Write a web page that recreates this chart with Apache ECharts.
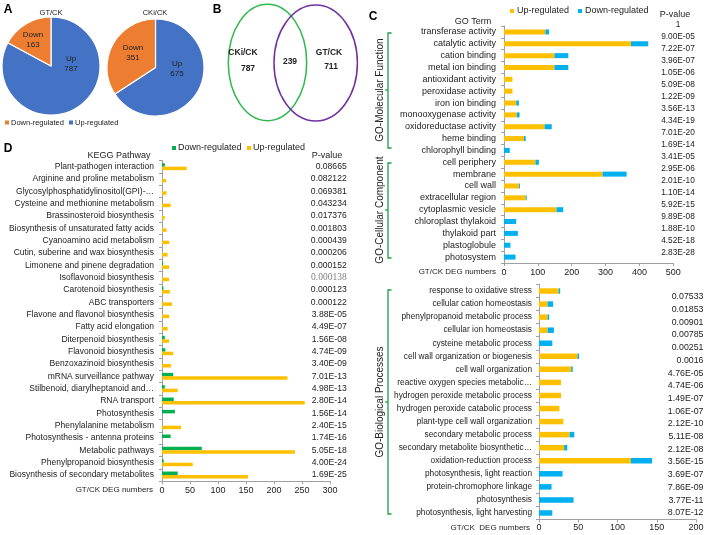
<!DOCTYPE html>
<html><head><meta charset="utf-8">
<script src="https://cdn.jsdelivr.net/npm/echarts@6/dist/echarts.min.js"></script>
<style>html,body{margin:0;padding:0;background:#fff}#c{width:708px;height:535px}</style>
</head><body><div id="c"></div>
<script>
// ---- Panel A: pies ----
const pieTitles = ['GT/CK', 'CKi/CK'];
const pieUp = [787, 675];
const pieDown = [163, 351];
const pieLegend = ['Down-regulated', 'Up-regulated'];
// ---- Panel B: Venn ----
const vennNames = ['CKi/CK', 'GT/CK'];
const vennOnly = [787, 711];
const vennShared = 239;
// ---- Panel C (MF + CC) ----
const goTerms = ['transferase activity','catalytic activity','cation binding','metal ion binding','antioxidant activity','peroxidase activity','iron ion binding','monooxygenase activity','oxidoreductase activity','heme binding','chlorophyll binding','cell periphery','membrane','cell wall','extracellular region','cytoplasmic vesicle','chloroplast thylakoid','thylakoid part','plastoglobule','photosystem'];
const goUp =   [122,375,149,149,25,25,36,38,120,59,0,93,291,44,64,155,0,0,0,0];
const goDown = [11,51,41,41,0,0,8,8,21,5,17,10,71,3,3,20,36,41,19,34];
const goP = ['1','9.00E-05','7.22E-07','3.96E-07','1.05E-06','5.09E-08','1.22E-09','3.56E-13','4.34E-19','7.01E-20','1.69E-14','3.41E-05','2.95E-06','2.01E-10','1.10E-14','5.92E-15','9.89E-08','1.88E-10','4.52E-18','2.83E-28'];
const goTicks = [0,100,200,300,400,500];
// ---- Panel C (BP) ----
const bpTerms = ['response to oxidative stress','cellular cation homeostasis','phenylpropanoid metabolic process','cellular ion homeostasis','cysteine metabolic process','cell wall organization or biogenesis','cell wall organization','reactive oxygen species metabolic\u2026','hydrogen peroxide metabolic process','hydrogen peroxide catabolic process','plant-type cell wall organization','secondary metabolic process','secondary metabolite biosynthetic\u2026','oxidation-reduction process','photosynthesis, light reaction','protein-chromophore linkage','photosynthesis','photosynthesis, light harvesting'];
const bpUp =   [25,11,11,11,0,49,41,28,28,26,31,39,32,117,0,0,0,0];
const bpDown = [2,7,2,8,17,2,2,0,0,0,0,6,4,27,30,16,44,17];
const bpP = ['0.07533','0.01853','0.00901','0.00785','0.00251','0.0016','4.76E-05','4.74E-06','1.49E-07','1.06E-07','2.12E-10','5.11E-08','2.12E-08','3.56E-15','3.69E-07','7.86E-09','3.77E-11','8.07E-12'];
const bpTicks = [0,50,100,150,200];
// ---- Panel D (KEGG) ----
const keggTerms = ['Plant-pathogen interaction','Arginine and proline metabolism','Glycosylphosphatidylinositol(GPI)-\u2026','Cysteine and methionine metabolism','Brassinosteroid biosynthesis','Biosynthesis of unsaturated fatty acids','Cyanoamino acid metabolism','Cutin, suberine and wax biosynthesis','Limonene and pinene degradation','Isoflavonoid biosynthesis','Carotenoid biosynthesis','ABC transporters','Flavone and flavonol biosynthesis','Fatty acid elongation','Diterpenoid biosynthesis','Flavonoid biosynthesis','Benzoxazinoid biosynthesis','mRNA surveillance pathway','Stilbenoid, diarylheptanoid and\u2026','RNA transport','Photosynthesis','Phenylalanine metabolism','Photosynthesis - antenna proteins','Metabolic pathways','Phenylpropanoid biosynthesis','Biosynthesis of secondary metabolites'];
const keggDown = [5,0,0,0,0,0,0,0,2,0,2.5,0,0,0,5,6,0,20,5,21,23,0,15.5,71,3,28];
const keggUp =   [44,7,8,15.5,5,8,13,10,12.5,12.5,14,18,13,10,12.5,20,16,224,28,255,0,34,0,237.5,55,153.5];
const keggP = ['0.08665','0.082122','0.069381','0.043234','0.017376','0.001803','0.000439','0.000206','0.000152','0.000138','0.000123','0.000122','3.88E-05','4.49E-07','1.56E-08','4.74E-09','3.40E-09','7.01E-13','4.98E-13','2.80E-14','1.56E-14','2.40E-15','1.74E-16','5.05E-18','4.00E-24','1.69E-25'];
const keggTicks = [0,50,100,150,200,250,300];

const FONT = '"Liberation Sans", Arial, Helvetica, sans-serif';
const YEL = '#FFC000', BLU = '#00B0F0', GRN = '#00B050';
const PIE_BLUE = '#4472C4', PIE_OR = '#ED7D31';
const AX = '#A0A0A0', TXT = '#222';
const BRK = '#1E9E4A';

const chart = echarts.init(document.getElementById('c'));

function txt(x, y, text, size, opts) {
  opts = opts || {};
  return {type:'text', x:x, y:y, rotation: opts.rot || 0, silent:true, z:10,
    style:{text:text, fill: opts.fill || TXT, font:(opts.bold?'bold ':'') + size + 'px ' + FONT,
      lineHeight: opts.lh, align: opts.align || 'center', verticalAlign:'middle', textAlign: opts.align || 'center', textVerticalAlign:'middle'}};
}
function sq(x, y, color) {
  return {type:'rect', shape:{x:x, y:y-2, width:4, height:4}, style:{fill:color}, silent:true};
}
function bracket(x, y0, y1, ym) {
  return [
    {type:'polyline', shape:{points:[[x+3.5,y0],[x,y0],[x,y1],[x+3.5,y1]]}, style:{stroke:BRK, lineWidth:1.3, fill:null}, silent:true},
    {type:'line', shape:{x1:x-3, y1:ym, x2:x, y2:ym}, style:{stroke:BRK, lineWidth:1.3}, silent:true}
  ];
}

function valAxis(gi, ticks, fs, margin) {
  return {gridIndex:gi, type:'value', min:ticks[0], max:ticks[ticks.length-1], interval:ticks[1]-ticks[0],
    axisLine:{show:true, lineStyle:{color:AX, width:1}}, axisTick:{show:true, length:3, lineStyle:{color:AX}},
    splitLine:{show:false}, axisLabel:{fontSize:fs, color:TXT, margin:margin, fontFamily:FONT}};
}
function catAxis(gi, data, fs, margin) {
  return {gridIndex:gi, type:'category', inverse:true, data:data,
    axisLine:{show:true, lineStyle:{color:AX, width:1}}, axisTick:{show:true, length:3, lineStyle:{color:AX}},
    axisLabel:{interval:0, fontSize:fs, color:TXT, margin:margin, fontFamily:FONT}};
}
function pAxis(gi, data, fs, align, rich, fmt) {
  return {gridIndex:gi, type:'category', inverse:true, position:'right', data:data,
    axisLine:{show:false}, axisTick:{show:false},
    axisLabel:{interval:0, fontSize:fs, color:TXT, margin:0, align:align, fontFamily:FONT, rich:rich||{}, formatter:fmt}};
}
function hidX(gi) { return {gridIndex:gi, type:'value', show:false}; }

const g = (l, t, w, h) => ({left:l, top:t, width:w, height:h, containLabel:false, outerBoundsMode:'none'});

const graphics = [];
// Panel letters
graphics.push(txt(8, 10, 'A', 12, {bold:true, fill:'#000'}));
graphics.push(txt(217, 10, 'B', 12, {bold:true, fill:'#000'}));
graphics.push(txt(373, 17, 'C', 12, {bold:true, fill:'#000'}));
graphics.push(txt(8, 149, 'D', 12, {bold:true, fill:'#000'}));
// Pie titles and labels
graphics.push(txt(51, 13, pieTitles[0], 7.5));
graphics.push(txt(155, 13, pieTitles[1], 7.5));
graphics.push(txt(33, 40, 'Down\n' + pieDown[0], 8, {lh:10}));
graphics.push(txt(71, 64, 'Up\n' + pieUp[0], 8, {lh:10}));
graphics.push(txt(133, 53, 'Down\n' + pieDown[1], 8, {lh:10}));
graphics.push(txt(177, 69, 'Up\n' + pieUp[1], 8, {lh:10}));
// Pie legend
graphics.push(sq(5, 122.5, PIE_OR)); graphics.push(txt(11, 122.5, pieLegend[0], 7.5, {align:'left'}));
graphics.push(sq(69, 122.5, PIE_BLUE)); graphics.push(txt(75, 122.5, pieLegend[1], 7.5, {align:'left'}));
// Venn
graphics.push({type:'ellipse', shape:{cx:267.5, cy:62.5, rx:39.2, ry:58.2}, style:{stroke:'#2DB84B', lineWidth:1.5, fill:null}, silent:true});
graphics.push({type:'ellipse', shape:{cx:315.7, cy:63, rx:41.7, ry:58}, style:{stroke:'#7030A0', lineWidth:1.5, fill:null}, silent:true});
graphics.push(txt(243, 53, vennNames[0], 8.5, {bold:true}));
graphics.push(txt(248, 68.5, String(vennOnly[0]), 8.5, {bold:true}));
graphics.push(txt(290, 62, String(vennShared), 8.5, {bold:true}));
graphics.push(txt(329, 53, vennNames[1], 8.5, {bold:true}));
graphics.push(txt(331, 67, String(vennOnly[1]), 8.5, {bold:true}));
// Panel C headers/legend
graphics.push(sq(510, 11, YEL)); graphics.push(txt(517, 11, 'Up-regulated', 9, {align:'left'}));
graphics.push(sq(578, 11, BLU)); graphics.push(txt(585, 11, 'Down-regulated', 9, {align:'left'}));
graphics.push(txt(675, 15, 'P-value', 9));
graphics.push(txt(473, 22, 'GO Term', 9));
graphics.push(txt(496, 272, 'GT/CK DEG numbers', 8, {align:'right'}));
graphics.push(txt(530, 528, 'GT/CK  DEG numbers', 8, {align:'right'}));
// Brackets
graphics.push(...bracket(388, 33, 148, 90));
graphics.push(...bracket(388, 163, 258, 210));
graphics.push(...bracket(388, 290, 514, 402));
graphics.push(txt(380.5, 90, 'GO-Molecular Function', 10, {rot:Math.PI/2}));
graphics.push(txt(380.5, 210, 'GO-Cellular Component', 10, {rot:Math.PI/2}));
graphics.push(txt(380.5, 402, 'GO-Biological Processes', 10, {rot:Math.PI/2}));
// Panel D headers/legend
graphics.push(sq(172, 148, GRN)); graphics.push(txt(178, 148, 'Down-regulated', 9, {align:'left'}));
graphics.push(sq(247, 148, YEL)); graphics.push(txt(253, 148, 'Up-regulated', 9, {align:'left'}));
graphics.push(txt(119, 156, 'KEGG Pathway', 9));
graphics.push(txt(327, 156, 'P-value', 9));
graphics.push(txt(153, 490, 'GT/CK DEG numbers', 8, {align:'right'}));

const option = {
  animation:false,
  backgroundColor:'#fff',
  textStyle:{fontFamily:FONT},
  grid:[
    g(504, 26, 169.3, 237),       // 0 GO MF+CC bars
    g(620, 19, 58, 240),          // 1 GO p-values (centered at right edge)
    g(539, 284.5, 157, 235),      // 2 BP bars
    g(620, 290.6, 83.5, 228.6),   // 3 BP p-values
    g(162, 160.5, 168, 320.7),    // 4 KEGG bars
    g(280, 160.5, 66.7, 320.7)    // 5 KEGG p-values
  ],
  xAxis:[
    valAxis(0, goTicks, 9, 5), hidX(1),
    valAxis(2, bpTicks, 9, 4), hidX(3),
    valAxis(4, keggTicks, 9, 5), hidX(5)
  ],
  yAxis:[
    catAxis(0, goTerms, 9, 8),
    pAxis(1, goP, 8.3, 'center'),
    catAxis(2, bpTerms, 8.3, 7),
    pAxis(3, bpP, 8.8, 'right'),
    catAxis(4, keggTerms, 8.5, 8),
    pAxis(5, keggP, 8.6, 'right', {s:{fontFamily:'"Liberation Serif", "Times New Roman", serif', color:'#808080', fontSize:9.5}}, (v, i) => i === 9 ? '{s|' + v + '}' : v)
  ],
  series:[
    {type:'pie', center:[51, 66], radius:49, startAngle:90, clockwise:true, label:{show:false}, labelLine:{show:false},
     itemStyle:{borderColor:'#fff', borderWidth:1.2}, silent:true,
     data:[{name:'Up', value:pieUp[0], itemStyle:{color:PIE_BLUE}}, {name:'Down', value:pieDown[0], itemStyle:{color:PIE_OR}}]},
    {type:'pie', center:[155.5, 67.5], radius:48.5, startAngle:90, clockwise:true, label:{show:false}, labelLine:{show:false},
     itemStyle:{borderColor:'#fff', borderWidth:1.2}, silent:true,
     data:[{name:'Up', value:pieUp[1], itemStyle:{color:PIE_BLUE}}, {name:'Down', value:pieDown[1], itemStyle:{color:PIE_OR}}]},
    {type:'bar', name:'Up-regulated', xAxisIndex:0, yAxisIndex:0, stack:'go', barWidth:5, data:goUp, itemStyle:{color:YEL}},
    {type:'bar', name:'Down-regulated', xAxisIndex:0, yAxisIndex:0, stack:'go', barWidth:5, data:goDown, itemStyle:{color:BLU}},
    {type:'bar', name:'Up-regulated', xAxisIndex:2, yAxisIndex:2, stack:'bp', barWidth:5.5, data:bpUp, itemStyle:{color:YEL}},
    {type:'bar', name:'Down-regulated', xAxisIndex:2, yAxisIndex:2, stack:'bp', barWidth:5.5, data:bpDown, itemStyle:{color:BLU}},
    {type:'bar', name:'Down-regulated', xAxisIndex:4, yAxisIndex:4, barWidth:3.5, barGap:'0%', data:keggDown, itemStyle:{color:GRN}},
    {type:'bar', name:'Up-regulated', xAxisIndex:4, yAxisIndex:4, barWidth:3.5, barGap:'0%', data:keggUp, itemStyle:{color:YEL}}
  ],
  graphic:graphics
};
chart.setOption(option);
</script></body></html>
